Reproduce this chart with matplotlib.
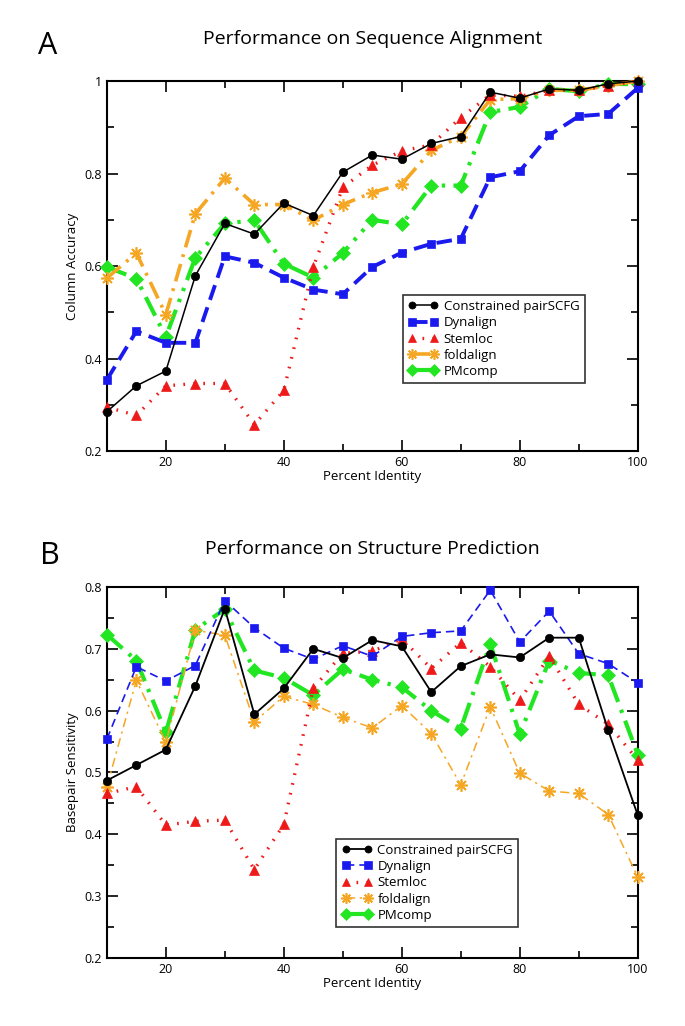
import matplotlib
matplotlib.use("Agg")
import matplotlib.pyplot as plt
from matplotlib.ticker import MultipleLocator

plt.rcParams["font.family"] = ["Open Sans", "DejaVu Sans"]

identity = [10, 15, 20, 25, 30, 35, 40, 45, 50, 55, 60, 65, 70, 75, 80, 85, 90, 95, 100]

# Panel A: column accuracy
acc_pair = [0.285, 0.341, 0.373, 0.579, 0.692, 0.669, 0.736, 0.709, 0.803, 0.840,
            0.831, 0.865, 0.880, 0.976, 0.963, 0.983, 0.980, 0.994, 1.000]
acc_dyn = [0.354, 0.459, 0.434, 0.434, 0.621, 0.607, 0.575, 0.549, 0.539, 0.598,
           0.629, 0.648, 0.659, 0.792, 0.805, 0.883, 0.924, 0.929, 0.985]
acc_stem = [0.295, 0.277, 0.341, 0.346, 0.346, 0.257, 0.331, 0.598, 0.770, 0.818,
            0.849, 0.862, 0.921, 0.970, 0.967, 0.980, 0.980, 0.990, 1.000]
acc_fold = [0.574, 0.628, 0.495, 0.713, 0.790, 0.733, 0.733, 0.699, 0.733, 0.759,
            0.777, 0.850, 0.880, 0.960, 0.962, 0.980, 0.980, 0.990, 1.000]
acc_pm = [0.598, 0.573, 0.447, 0.618, 0.692, 0.699, 0.605, 0.575, 0.628, 0.700,
          0.690, 0.774, 0.774, 0.933, 0.944, 0.983, 0.978, 0.994, 0.993]

# Panel B: basepair sensitivity
sen_pair = [0.487, 0.512, 0.537, 0.640, 0.765, 0.594, 0.636, 0.700, 0.685, 0.714,
            0.704, 0.630, 0.672, 0.691, 0.686, 0.718, 0.718, 0.568, 0.431]
sen_dyn = [0.554, 0.671, 0.648, 0.673, 0.778, 0.734, 0.701, 0.683, 0.705, 0.688,
           0.720, 0.726, 0.729, 0.795, 0.711, 0.761, 0.692, 0.676, 0.645]
sen_stem = [0.466, 0.477, 0.415, 0.421, 0.423, 0.343, 0.416, 0.636, 0.693, 0.696,
            0.716, 0.668, 0.710, 0.671, 0.617, 0.688, 0.610, 0.578, 0.520]
sen_fold = [0.477, 0.649, 0.549, 0.730, 0.722, 0.582, 0.623, 0.610, 0.589, 0.572,
            0.608, 0.563, 0.480, 0.606, 0.499, 0.470, 0.466, 0.432, 0.331]
sen_pm = [0.723, 0.681, 0.565, 0.731, 0.764, 0.665, 0.653, 0.625, 0.667, 0.650,
          0.638, 0.600, 0.571, 0.708, 0.562, 0.681, 0.661, 0.657, 0.529]

names = ["Constrained pairSCFG", "Dynalign", "Stemloc", "foldalign", "PMcomp"]
colors = ["black", "#1a1aee", "#ee1a1a", "#f5a623", "#22e622"]
markers = ["o", "s", "^", (8, 2, 0), "D"]
msizes = [6, 6, 7, 9, 7]

style_a = ["-", (0, (4, 2)), (0, (0.5, 2.5)), (0, (5, 2, 0.8, 2)), (0, (5, 2, 0.8, 2, 0.8, 2))]
width_a = [1.1, 2.8, 2.4, 2.6, 3.0]
style_b = ["-", (0, (5, 3)), (0, (0.5, 2.5)), (0, (6, 3, 1.5, 3)), (0, (5, 2, 0.8, 2))]
width_b = [1.3, 1.2, 2.4, 1.1, 3.0]

fig = plt.figure(figsize=(6.85, 10.26), dpi=100)
ax_a = fig.add_axes([0.156, 0.5604, 0.775, 0.3606])
ax_b = fig.add_axes([0.156, 0.0663, 0.775, 0.3616])


def draw(ax, series, styles, widths, ylo, yhi, ymaj, ymin, legend_pos):
    for i, ys in enumerate(series):
        ax.plot(identity, ys, linestyle=styles[i], linewidth=widths[i], color=colors[i],
                marker=markers[i], markersize=msizes[i], markeredgecolor=colors[i],
                markeredgewidth=1.2 if i == 3 else 0.5, label=names[i], clip_on=False,
                zorder=5 - i * 0.1)
    ax.set_xlim(10, 100)
    ax.set_ylim(ylo, yhi)
    ax.xaxis.set_major_locator(MultipleLocator(20))
    ax.xaxis.set_minor_locator(MultipleLocator(10))
    ax.yaxis.set_major_locator(MultipleLocator(ymaj))
    ax.yaxis.set_minor_locator(MultipleLocator(ymin))
    ax.tick_params(which="both", direction="in", top=True, right=True, labelsize=9)
    ax.tick_params(which="major", length=8, width=1.2)
    ax.tick_params(which="minor", length=5, width=1.2)
    for sp in ax.spines.values():
        sp.set_linewidth(1.5)
    ax.set_xlabel("Percent Identity", fontsize=9.5, labelpad=1)
    leg = ax.legend(loc="lower left", bbox_to_anchor=legend_pos, fontsize=9.5,
                    numpoints=2, handlelength=2.3, frameon=True, fancybox=False,
                    edgecolor="black", borderpad=0.4, labelspacing=0.25,
                    handletextpad=0.4, markerscale=0.85)
    leg.get_frame().set_linewidth(1.2)


draw(ax_a, [acc_pair, acc_dyn, acc_stem, acc_fold, acc_pm], style_a, width_a,
     0.2, 1.0, 0.2, 0.1, (0.545, 0.165))
ax_a.set_yticks([0.2, 0.4, 0.6, 0.8, 1.0])
ax_a.set_yticklabels(["0.2", "0.4", "0.6", "0.8", "1"])
ax_a.set_ylabel("Column Accuracy", fontsize=9.5)
ax_a.set_title("Performance on Sequence Alignment", fontsize=14, pad=27)

draw(ax_b, [sen_pair, sen_dyn, sen_stem, sen_fold, sen_pm], style_b, width_b,
     0.2, 0.8, 0.1, 0.05, (0.42, 0.065))
ax_b.set_ylabel("Basepair Sensitivity", fontsize=9.5)
ax_b.set_title("Performance on Structure Prediction", fontsize=14, pad=24)

fig.text(0.07, 0.955, "A", fontsize=22, ha="center", va="center")
fig.text(0.073, 0.458, "B", fontsize=22, ha="center", va="center")

fig.savefig("out.png", dpi=100)
